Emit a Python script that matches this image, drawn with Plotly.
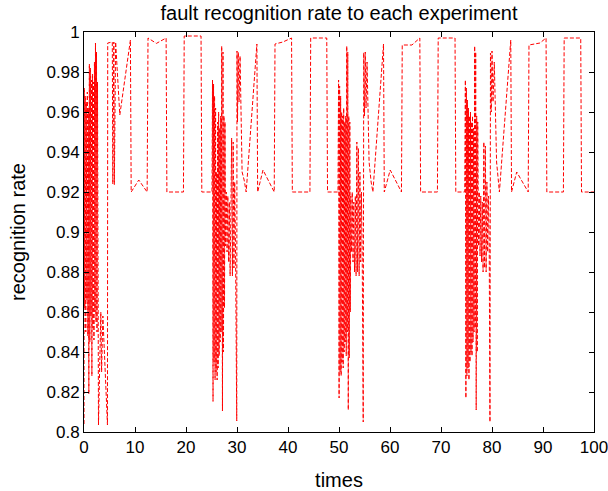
import plotly.graph_objects as go

# Burst at the start (x 0 - 6.2)
times_a = [0.0, 0.05, 0.15, 0.25, 0.35, 0.45, 0.55, 0.65, 0.75, 0.85,
           0.95, 1.05, 1.15, 1.25, 1.35, 1.45, 1.55, 1.65, 1.75, 1.85,
           1.95, 2.05, 2.15, 2.25, 2.35, 2.45, 2.55, 2.65, 2.84, 3.3,
           3.45, 3.7, 4.3, 4.6, 4.65, 5.55, 5.65, 5.85, 5.95, 6.2]
rate_a = [0.804, 0.972, 0.862, 0.968, 0.850, 0.965, 0.866, 0.970, 0.848, 0.962,
          0.819, 0.984, 0.845, 0.982, 0.858, 0.976, 0.828, 0.979, 0.852, 0.975,
          0.846, 0.985, 0.860, 0.9945, 0.855, 0.990, 0.850, 0.975, 0.8035, 0.860,
          0.830, 0.858, 0.825, 0.8035, 0.9945, 0.995, 0.924, 0.995, 0.9237, 0.995]

# Plateaus, period 1
times_b = [7.02, 9.1, 9.25, 10.74, 12.38, 12.55, 14.2, 16.1, 16.25, 19.5, 19.65, 22.95, 23.1, 25.1]
rate_b = [0.9585, 0.996, 0.92, 0.926, 0.92, 0.997, 0.9943, 0.997, 0.92, 0.92, 0.998, 0.998, 0.92, 0.92]

# Burst 2
times_c = [25.2, 25.3, 25.4, 25.5, 25.6, 25.7, 25.8, 25.9, 26.0, 26.1,
           26.2, 26.3, 26.4, 26.5, 26.6, 26.7, 26.8, 26.9, 27.0, 27.15,
           27.25, 27.35, 27.45, 27.55, 27.65, 27.75, 27.9, 28.05, 28.2, 28.35,
           28.5, 28.65, 28.8, 28.95, 29.1, 29.25, 29.4, 29.55, 29.7, 29.95,
           30.0, 30.1, 30.25, 30.4, 30.6, 31.0, 31.4, 31.8]
rate_c = [0.976, 0.8153, 0.974, 0.835, 0.968, 0.826, 0.962, 0.830, 0.930, 0.826,
          0.955, 0.832, 0.960, 0.838, 0.952, 0.845, 0.958, 0.850, 0.993, 0.8105,
          0.990, 0.840, 0.958, 0.862, 0.955, 0.893, 0.920, 0.890, 0.918, 0.885,
          0.915, 0.878, 0.910, 0.947, 0.878, 0.945, 0.882, 0.925, 0.895, 0.8055,
          0.9905, 0.955, 0.990, 0.965, 0.988, 0.930, 0.926, 0.920]

# Plateaus, period 2
times_d = [33.9, 34.05, 35.1, 37.3, 37.45, 39.0, 40.7, 40.85, 44.3, 44.45, 47.6, 47.75, 49.8]
rate_d = [0.994, 0.92, 0.931, 0.92, 0.994, 0.995, 0.997, 0.92, 0.92, 0.997, 0.997, 0.92, 0.92]

# Burst 3
times_e = [49.92, 50.02, 50.12, 50.22, 50.32, 50.42, 50.52, 50.62, 50.72, 50.82,
           50.92, 51.02, 51.12, 51.22, 51.32, 51.42, 51.52, 51.62, 51.72, 51.82,
           51.92, 52.02, 52.12, 52.22, 52.32, 52.45, 52.6, 52.75, 52.9, 53.05,
           53.2, 53.35, 53.5, 53.65, 53.8, 53.95, 54.1, 54.25, 54.4, 54.55,
           54.75, 54.85, 55.0, 55.15, 55.3, 55.5, 55.9, 56.3, 56.65]
rate_e = [0.976, 0.817, 0.973, 0.830, 0.968, 0.828, 0.960, 0.835, 0.958, 0.832,
          0.962, 0.840, 0.955, 0.845, 0.958, 0.838, 0.993, 0.850, 0.990, 0.811,
          0.958, 0.837, 0.955, 0.860, 0.918, 0.890, 0.920, 0.885, 0.915, 0.880,
          0.918, 0.878, 0.945, 0.880, 0.942, 0.878, 0.930, 0.885, 0.920, 0.890,
          0.805, 0.9897, 0.958, 0.990, 0.962, 0.985, 0.935, 0.925, 0.920]

# Plateaus, period 3
times_f = [58.73, 58.88, 60.04, 62.25, 62.4, 64.3, 65.85, 66.0, 69.3, 69.45, 72.75, 72.9, 74.65]
rate_f = [0.994, 0.92, 0.931, 0.92, 0.9935, 0.9935, 0.997, 0.92, 0.92, 0.997, 0.997, 0.92, 0.92]

# Burst 4
times_g = [74.78, 74.88, 74.98, 75.08, 75.18, 75.28, 75.38, 75.48, 75.58, 75.68,
           75.78, 75.88, 75.98, 76.08, 76.18, 76.28, 76.38, 76.48, 76.6, 76.7,
           76.8, 76.9, 77.0, 77.1, 77.2, 77.35, 77.5, 77.65, 77.8, 77.95,
           78.1, 78.25, 78.4, 78.55, 78.7, 78.85, 79.0, 79.15, 79.3, 79.45,
           79.6, 79.7, 79.85, 80.0, 80.2, 80.45, 80.9, 81.45]
rate_g = [0.976, 0.817, 0.972, 0.828, 0.966, 0.832, 0.962, 0.826, 0.958, 0.835,
          0.960, 0.840, 0.955, 0.838, 0.958, 0.845, 0.952, 0.850, 0.993, 0.852,
          0.990, 0.811, 0.958, 0.840, 0.955, 0.893, 0.920, 0.888, 0.918, 0.885,
          0.915, 0.880, 0.945, 0.882, 0.943, 0.880, 0.925, 0.890, 0.918, 0.895,
          0.805, 0.9895, 0.960, 0.9905, 0.965, 0.985, 0.935, 0.920]

# Plateaus, period 4
times_h = [83.68, 83.83, 84.85, 87.1, 87.25, 89.4, 90.6, 90.75, 94.0, 94.15, 97.4, 97.55, 100.0]
rate_h = [0.996, 0.92, 0.930, 0.92, 0.9935, 0.9945, 0.997, 0.92, 0.92, 0.997, 0.997, 0.92, 0.92]

x_ticks = [0, 10, 20, 30, 40, 50, 60, 70, 80, 90, 100]
y_ticks = [0.8, 0.82, 0.84, 0.86, 0.88, 0.9, 0.92, 0.94, 0.96, 0.98, 1.0]
y_ticklabels = ["0.8", "0.82", "0.84", "0.86", "0.88", "0.9", "0.92", "0.94", "0.96", "0.98", "1"]

times = times_a + times_b + times_c + times_d + times_e + times_f + times_g + times_h
rate = rate_a + rate_b + rate_c + rate_d + rate_e + rate_f + rate_g + rate_h

FONT = "Liberation Sans, Arial, Helvetica, sans-serif"

fig = go.Figure()
fig.add_trace(go.Scatter(
    x=times, y=rate, mode="lines",
    line=dict(color="#ff0000", width=1, dash="4px,2px"),
    showlegend=False,
))

axis_common = dict(
    showline=True, linecolor="black", linewidth=1, mirror="ticks",
    ticks="inside", ticklen=5, tickcolor="black", tickwidth=1,
    showgrid=False, zeroline=False, ticklabeloverflow="allow",
    automargin=False,
    tickfont=dict(family=FONT, size=17, color="black"),
)

fig.update_layout(
    width=608, height=491,
    margin=dict(l=84, r=14, t=32, b=59),
    paper_bgcolor="white", plot_bgcolor="white",
    font=dict(family=FONT, color="black"),
    title=dict(text="fault recognition rate to each experiment",
               x=(84 + 594) / 2 / 608, xanchor="center",
               y=1 - 13 / 491, yanchor="middle",
               font=dict(family=FONT, size=20, color="black")),
    xaxis=dict(range=[0, 100], tickvals=x_ticks,
               title=dict(text="times", font=dict(family=FONT, size=20, color="black"), standoff=16),
               **axis_common),
    yaxis=dict(range=[0.8, 1.0], tickvals=y_ticks, ticktext=y_ticklabels,
               title=dict(text="recognition rate", font=dict(family=FONT, size=20, color="black"), standoff=15),
               **axis_common),
)

fig.write_html("out.html")
